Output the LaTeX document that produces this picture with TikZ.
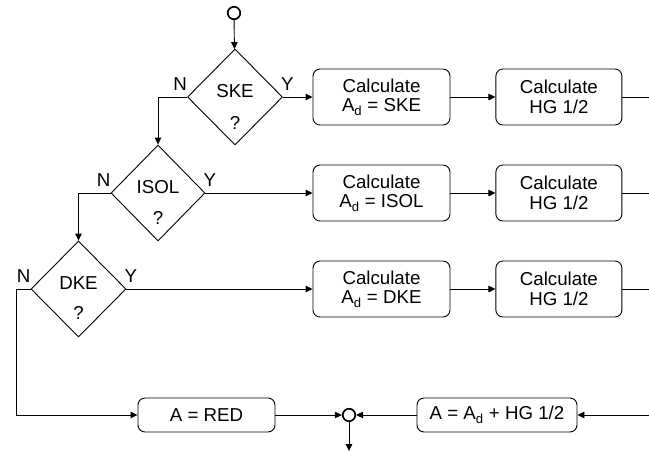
\documentclass[tikz,border=0pt]{standalone}
\usepackage{fontspec}
\setmainfont{Liberation Sans}
\usetikzlibrary{arrows.meta,calc,positioning,shapes.geometric}

\begin{document}
\begin{tikzpicture}[
  x=1pt,y=-1pt,
  font=\fontsize{18.7}{19.5}\selectfont,
  box/.style={draw,rounded corners=7pt,minimum width=137pt,minimum height=56pt,align=center,inner sep=0pt,line width=0.9pt},
  decision/.style={draw,diamond,minimum width=95pt,minimum height=96pt,inner sep=0pt,line width=0.9pt},
  junction/.style={draw,circle,minimum size=12.5pt,inner sep=0pt,line width=1.7pt},
  arrow/.style={-{Triangle[length=7pt,width=6.5pt]},line width=0.9pt},
  line/.style={line width=0.9pt},
  node distance=45pt
]
\useasboundingbox (0,0) rectangle (649,451);
\node[junction] (start) at (234,13) {};
\node[decision] (ske) at (235,97) {};
\node (sketxt) at ($(ske.center)+(0,-6)$) {SKE};
\node (skeq) at ($(ske.center)+(0,26)$) {?};
\node[anchor=south east,inner sep=0pt] (sken) at ($(ske.west)+(0,-6)$) {N};
\node[anchor=south west,inner sep=0pt] (skey) at ($(ske.east)+(-2,-6)$) {Y};
\node[decision,minimum width=94pt] (isol) at (158,193) {};
\node (isoltxt) at ($(isol.center)+(0,-6)$) {ISOL};
\node (isolq) at ($(isol.center)+(0,25)$) {?};
\node[anchor=south east,inner sep=0pt] (isoln) at ($(isol.west)+(0,-6)$) {N};
\node[anchor=south west,inner sep=0pt] (isoly) at ($(isol.east)+(-2,-6)$) {Y};
\node[decision] (dke) at (78.5,289) {};
\node (dketxt) at ($(dke.center)+(0,-6)$) {DKE};
\node (dkeq) at ($(dke.center)+(0,24)$) {?};
\node[anchor=south east,inner sep=0pt] (dken) at ($(dke.west)+(0,-6)$) {N};
\node[anchor=south west,inner sep=0pt] (dkey) at ($(dke.east)+(-2,-6)$) {Y};
\node[box] (calcske) at (381.5,97) {Calculate\\A\textsubscript{d} = SKE};
\node[box,minimum width=126pt,right=of calcske] (hgske) {Calculate\\HG 1/2};
\node[box] (calcisol) at (381.5,193) {Calculate\\A\textsubscript{d} = ISOL};
\node[box,minimum width=126pt,right=of calcisol] (hgisol) {Calculate\\HG 1/2};
\node[box] (calcdke) at (381.5,289) {Calculate\\A\textsubscript{d} = DKE};
\node[box,minimum width=126pt,right=of calcdke] (hgdke) {Calculate\\HG 1/2};
\node[box,minimum height=34pt] (red) at (206.5,415) {A = RED};
\node[junction] (join) at (349,415) {};
\node[box,minimum width=160pt,minimum height=34pt] (sum) at (497,415) {A = A\textsubscript{d} + HG 1/2};
\coordinate (outske) at (649,97);
\coordinate (outisol) at (649,193);
\coordinate (outdke) at (649,289);
\coordinate (insum) at (649,415);
\coordinate (finish) at (349,451);
\draw[arrow] (start) -- (ske);
\draw[arrow] (ske.east) -- (calcske);
\draw[arrow] (calcske) -- (hgske);
\draw[line] (hgske) -- (outske);
\draw[arrow] (ske.west) -| (isol.north);
\draw[arrow] (isol.east) -- (calcisol);
\draw[arrow] (calcisol) -- (hgisol);
\draw[line] (hgisol) -- (outisol);
\draw[arrow] (isol.west) -| (dke.north);
\draw[arrow] (dke.east) -- (calcdke);
\draw[arrow] (calcdke) -- (hgdke);
\draw[line] (hgdke) -- (outdke);
\draw[arrow] (dke.west) -- ++(-14,0) |- (red);
\draw[arrow] (red) -- (join);
\draw[arrow] (insum) -- (sum);
\draw[arrow] (sum) -- (join);
\draw[arrow] (join) -- (finish);
\end{tikzpicture}
\end{document}
